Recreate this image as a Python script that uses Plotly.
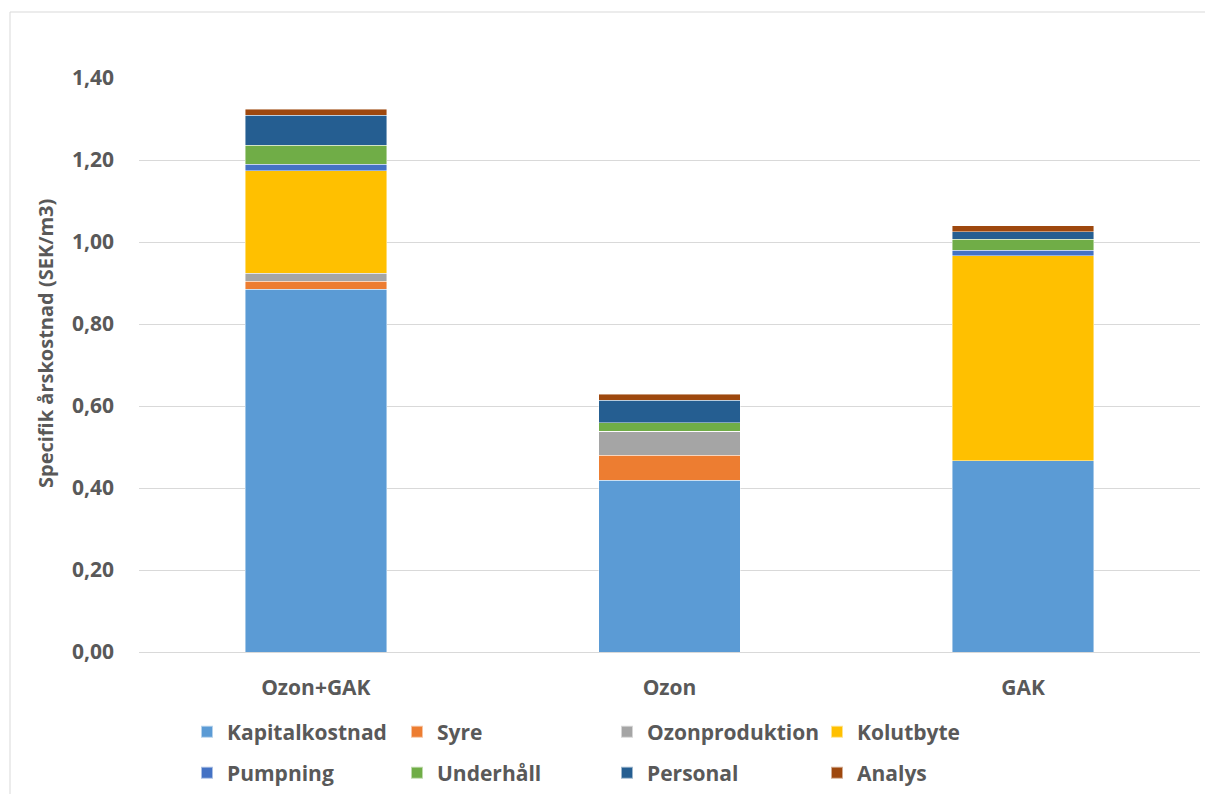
import plotly.graph_objects as go

# Specific annual cost per treatment alternative (SEK/m3), split by cost item
categories = ["Ozon+GAK", "Ozon", "GAK"]

kapitalkostnad = [0.885, 0.419, 0.466]
syre = [0.019, 0.061, 0.0]
ozonproduktion = [0.020, 0.059, 0.0]
kolutbyte = [0.250, 0.0, 0.500]
pumpning = [0.0155, 0.0, 0.0145]
underhall = [0.047, 0.020, 0.026]
personal = [0.0725, 0.055, 0.018]
analys = [0.015, 0.015, 0.0155]

series = [
    ("Kapitalkostnad", kapitalkostnad, "#5B9BD5", "legend"),
    ("Syre", syre, "#ED7D31", "legend"),
    ("Ozonproduktion", ozonproduktion, "#A5A5A5", "legend"),
    ("Kolutbyte", kolutbyte, "#FFC000", "legend"),
    ("Pumpning", pumpning, "#4472C4", "legend2"),
    ("Underhåll", underhall, "#70AD47", "legend2"),
    ("Personal", personal, "#255E91", "legend2"),
    ("Analys", analys, "#9E480E", "legend2"),
]

y_ticks = [0.0, 0.2, 0.4, 0.6, 0.8, 1.0, 1.2, 1.4]

FONT = "Open Sans"
GREY = "#595959"

fig = go.Figure()
for name, vals, color, lg in series:
    fig.add_trace(go.Bar(
        x=categories, y=vals, name=name, legend=lg,
        marker=dict(color=color, line=dict(color="rgba(255,255,255,0.55)", width=0.8)),
    ))

W, H = 1205, 794
L, R, T, B = 139, 5, 78, 142
pw, ph = W - L - R, H - T - B

def px_x(x):
    return (x - L) / pw

def px_y(y):
    return (H - B - y) / ph

legend_common = dict(
    orientation="h", xanchor="left", yanchor="middle",
    font=dict(family=FONT, size=21, color=GREY, weight="bold"),
    entrywidth=165, entrywidthmode="pixels",
    itemsizing="constant", bgcolor="rgba(0,0,0,0)",
    traceorder="normal",
)

tick_font = dict(family=FONT, size=21, color=GREY, weight="bold")

fig.update_layout(
    width=W, height=H,
    margin=dict(l=L, r=R, t=T, b=B, pad=0, autoexpand=False),
    barmode="stack",
    bargap=0.6,
    plot_bgcolor="white",
    paper_bgcolor="white",
    separators=", ",
    showlegend=True,
    legend=dict(x=px_x(187), y=px_y(732), **legend_common),
    legend2=dict(x=px_x(187), y=px_y(773), **legend_common),
    xaxis=dict(
        showgrid=False, showline=True, linecolor="#D9D9D9", linewidth=1,
        ticks="", ticklabelstandoff=17, tickfont=tick_font, automargin=False,
    ),
    yaxis=dict(
        range=[0, 1.4], tickvals=y_ticks, tickformat=".2f",
        showgrid=True, gridcolor="#D9D9D9", gridwidth=1,
        zeroline=False, showline=False, ticks="", ticklabelstandoff=24,
        tickfont=tick_font, automargin=False,
    ),
    annotations=[dict(
        text="Specifik årskostnad (SEK/m3)",
        x=px_x(45), y=px_y(344), xref="paper", yref="paper",
        xanchor="center", yanchor="middle", textangle=-90, showarrow=False,
        font=dict(family=FONT, size=20, color=GREY, weight="bold"),
    )],
    shapes=[dict(
        type="rect", xref="paper", yref="paper",
        x0=px_x(10), x1=px_x(1210), y0=px_y(800), y1=px_y(12),
        line=dict(color="#D9D9D9", width=1), fillcolor="rgba(0,0,0,0)", layer="below",
    )],
)

fig.write_html("out.html")
